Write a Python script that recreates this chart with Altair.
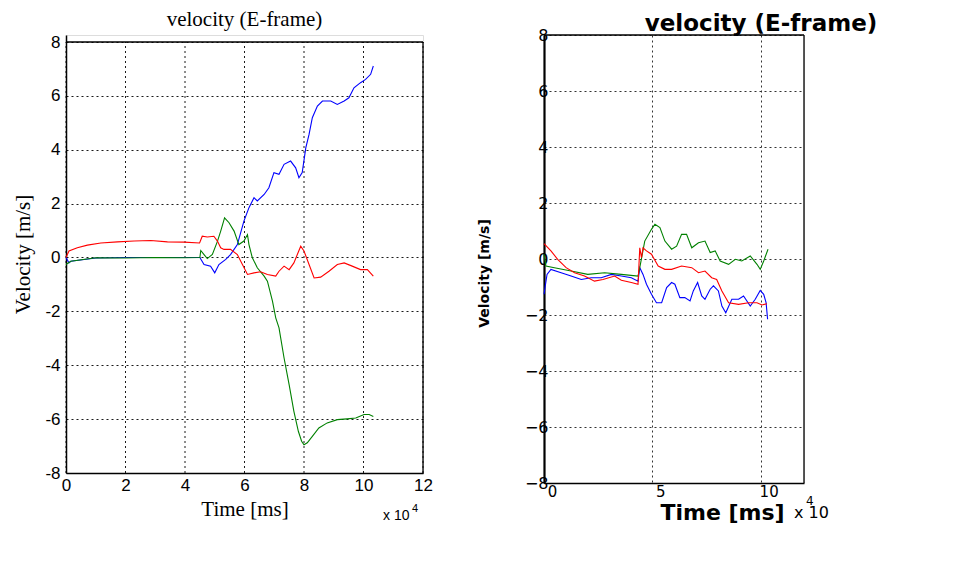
import altair as alt
import pandas as pd

# ---------------- data (time in units of 10^4 ms, velocity in m/s) ----------------
# Left panel
L_BLUE_T = [0, 0.1, 0.16, 1.0, 2.0, 3.0, 4.0, 4.5, 4.64, 4.86, 5.0, 5.14, 5.37, 5.53, 5.76, 5.98, 6.15,
            6.32, 6.43, 6.66, 6.82, 6.99, 7.16, 7.33, 7.55, 7.72, 7.83, 7.94, 8.06, 8.17, 8.28, 8.45,
            8.62, 8.9, 9.12, 9.35, 9.51, 9.68, 9.9, 10.07, 10.24, 10.33]
L_BLUE_V = [0, -0.2, -0.14, -0.02, 0.0, 0.0, 0.0, 0.0, -0.26, -0.32, -0.57, -0.26, -0.07, 0.11, 0.48, 1.35, 1.85,
            2.22, 2.1, 2.34, 2.59, 3.15, 3.09, 3.46, 3.58, 3.33, 2.96, 3.15, 4.07, 4.57, 5.19, 5.62,
            5.81, 5.81, 5.68, 5.81, 5.93, 6.3, 6.49, 6.61, 6.8, 7.11]

L_GREEN_T = [0, 0.16, 1.0, 2.0, 3.0, 4.0, 4.5, 4.53, 4.64, 4.75, 4.92, 5.09, 5.2, 5.33, 5.48, 5.65, 5.81,
             5.98, 6.1, 6.15, 6.26, 6.43, 6.66, 6.77, 6.94, 7.05, 7.16, 7.33, 7.5, 7.66, 7.81, 7.92,
             8.0, 8.11, 8.28, 8.5, 8.78, 9.12, 9.45, 9.74, 10.02, 10.19, 10.33]
L_GREEN_V = [-0.26, -0.14, -0.01, -0.02, 0.0, -0.01, 0.0, 0.26, 0.11, -0.04, 0.11, 0.6, 0.98, 1.47, 1.29, 0.98, 0.48,
             0.61, 0.85, 0.48, 0.0, -0.38, -0.69, -0.88, -1.62, -2.24, -2.61, -3.73, -4.72, -5.71, -6.45, -6.82,
             -6.95, -6.88, -6.64, -6.33, -6.14, -6.02, -5.99, -5.96, -5.83, -5.83, -5.9]

L_RED_T = [0, 0.1, 0.38, 0.72, 1.17, 1.73, 2.29, 2.85, 3.41, 3.97, 4.49, 4.58, 4.75, 4.97, 5.09, 5.2, 5.31,
           5.53, 5.76, 5.93, 6.1, 6.32, 6.54, 6.77, 7.05, 7.16, 7.33, 7.5, 7.66, 7.89, 8.0, 8.17, 8.34,
           8.56, 8.84, 9.12, 9.35, 9.62, 9.9, 10.13, 10.33]
L_RED_V = [0, 0.24, 0.36, 0.46, 0.54, 0.58, 0.61, 0.63, 0.58, 0.57, 0.54, 0.79, 0.76, 0.79, 0.61, 0.36, 0.3,
           0.3, 0.11, -0.26, -0.63, -0.57, -0.53, -0.63, -0.69, -0.51, -0.32, -0.45, -0.2, 0.42, 0.24, -0.26, -0.76,
           -0.73, -0.51, -0.26, -0.2, -0.32, -0.45, -0.45, -0.69]

# Right panel
R_BLUE_T = [0, 0.14, 0.32, 0.79, 1.25, 1.72, 2.18, 2.64, 3.11, 3.57, 4.03, 4.34, 4.42, 4.57, 4.73, 4.96,
            5.19, 5.43, 5.66, 5.89, 6.04, 6.27, 6.5, 6.74, 6.89, 7.09, 7.28, 7.43, 7.67, 7.82, 8.05, 8.21,
            8.39, 8.67, 8.98, 9.21, 9.52, 9.75, 9.98, 10.14, 10.25, 10.32]
R_BLUE_V = [-1.26, -0.55, -0.37, -0.49, -0.61, -0.73, -0.67, -0.67, -0.55, -0.61, -0.67, -0.79, -0.31, -0.55, -0.9, -1.26,
            -1.56, -1.56, -1.02, -0.84, -0.9, -1.38, -1.38, -1.5, -1.14, -0.84, -1.32, -1.44, -1.08, -0.96, -1.14, -1.68,
            -1.92, -1.44, -1.44, -1.32, -1.68, -1.44, -1.12, -1.26, -1.56, -2.15]

R_GREEN_T = [0, 0.09, 0.48, 1.25, 2.02, 2.8, 3.57, 4.34, 4.42, 4.65, 4.96, 5.12, 5.35, 5.58, 5.89, 6.12,
             6.35, 6.58, 6.82, 7.13, 7.43, 7.67, 7.9, 8.13, 8.52, 8.83, 9.13, 9.52, 9.83, 9.98, 10.14, 10.34]
R_GREEN_V = [0.17, -0.25, -0.31, -0.43, -0.55, -0.49, -0.55, -0.61, -0.31, 0.64, 1.06, 1.24, 1.12, 0.64, 0.35, 0.46,
             0.88, 0.88, 0.4, 0.58, 0.64, 0.23, 0.29, -0.07, -0.19, -0.01, -0.07, 0.11, -0.19, -0.37, -0.07, 0.35]

R_RED_T = [0, 0.32, 0.63, 1.02, 1.41, 1.87, 2.33, 2.72, 3.26, 3.57, 4.03, 4.34, 4.42, 4.5, 4.57, 4.73, 4.96,
           5.27, 5.58, 5.89, 6.35, 6.82, 7.13, 7.43, 7.74, 7.97, 8.21, 8.52, 8.98, 9.44, 9.83, 10.06, 10.29]
R_RED_V = [0.55, 0.29, -0.01, -0.31, -0.49, -0.61, -0.79, -0.73, -0.61, -0.76, -0.84, -0.9, 0.4, 0.05, 0.4, 0.29, 0.17,
           -0.25, -0.37, -0.37, -0.25, -0.31, -0.49, -0.43, -0.67, -0.73, -1.14, -1.56, -1.62, -1.56, -1.56, -1.64, -1.6]

SERIES = ["v1", "v2", "v3"]
COLORS = ["#0000ff", "#008000", "#ff0000"]
Y_TICKS = [-8, -6, -4, -2, 0, 2, 4, 6, 8]
LEFT_X_TICKS = [0, 2, 4, 6, 8, 10, 12]
RIGHT_X_TICKS = [0, 5, 10]
X_MAX, Y_MIN, Y_MAX = 12, -8, 8


def build(parts):
    rows = []
    for name, ts, vs in parts:
        for i, (t, v) in enumerate(zip(ts, vs)):
            rows.append({"s": name, "t": t, "v": v, "i": i})
    return pd.DataFrame(rows)


df_left = build([("v1", L_BLUE_T, L_BLUE_V), ("v2", L_GREEN_T, L_GREEN_V), ("v3", L_RED_T, L_RED_V)])
df_right = build([("v1", R_BLUE_T, R_BLUE_V), ("v2", R_GREEN_T, R_GREEN_V), ("v3", R_RED_T, R_RED_V)])

color = alt.Color("s:N", scale=alt.Scale(domain=SERIES, range=COLORS), legend=None)
one = pd.DataFrame({"a": [0]})

# ---------------- left panel ----------------
# plot frame is 357 x 431 px; the view is 7 px taller so that the frame top sits lower than the right panel's
LW, LH, LTOP = 357, 431, 7
L_YMAX = Y_MAX + LTOP * (Y_MAX - Y_MIN) / LH
lx = alt.X("t:Q", scale=alt.Scale(domain=[0, X_MAX], nice=False, zero=False),
           axis=alt.Axis(values=LEFT_X_TICKS, title="Time [ms]", labelExpr="datum.value + ''",
                         labelFont="Liberation Sans", labelFontSize=17, labelColor="black",
                         labelPadding=4, ticks=False, domainColor="black", domainWidth=1.5,
                         grid=False,
                         titleFont="Liberation Serif", titleFontSize=21, titleFontWeight="normal",
                         titleColor="black", titlePadding=5, labelFlush=False))
ly = alt.Y("v:Q", scale=alt.Scale(domain=[Y_MIN, L_YMAX], nice=False, zero=False),
           axis=alt.Axis(values=Y_TICKS, title="Velocity [m/s]", labelExpr="datum.value + ''",
                         labelFont="Liberation Sans", labelFontSize=17, labelColor="black",
                         labelPadding=6, ticks=False, domainColor="black", domainWidth=1.5,
                         grid=True, gridColor="black", gridDash=[2, 3], gridWidth=0.9, gridOpacity=1,
                         titleFont="Liberation Serif", titleFontSize=21, titleFontWeight="normal",
                         titleColor="black", titlePadding=11, labelFlush=False))

left_lines = alt.Chart(df_left).mark_line(strokeWidth=1.1).encode(x=lx, y=ly, color=color, order="i:Q")
left_vgrid = alt.Chart(pd.DataFrame({"t": LEFT_X_TICKS})).mark_rule(
    color="black", strokeDash=[2, 3], strokeWidth=0.9
).encode(x="t:Q", y=alt.datum(Y_MIN), y2=alt.datum(Y_MAX))
left_top = alt.Chart(one).mark_rule(color="black", strokeWidth=1.3).encode(
    x=alt.datum(0), x2=alt.datum(X_MAX), y=alt.datum(Y_MAX))
left_right = alt.Chart(one).mark_rule(color="black", strokeWidth=1.3).encode(
    x=alt.datum(X_MAX), y=alt.datum(Y_MIN), y2=alt.datum(Y_MAX))
left_x = alt.Chart(one).mark_text(
    font="Liberation Sans", fontSize=14, align="left", baseline="alphabetic", color="black"
).encode(x=alt.value(317), y=alt.value(LTOP + LH + 47), text=alt.value("x 10"))
left_e = alt.Chart(one).mark_text(
    font="Liberation Sans", fontSize=11, align="left", baseline="alphabetic", color="black"
).encode(x=alt.value(346), y=alt.value(LTOP + LH + 39), text=alt.value("4"))

left = alt.layer(left_vgrid, left_top, left_right, left_lines, left_x, left_e).properties(
    width=LW, height=LH + LTOP,
    title=alt.TitleParams("velocity (E-frame)", font="Liberation Serif", fontSize=21,
                          fontWeight="normal", color="black", anchor="middle", offset=3),
)

# ---------------- right panel ----------------
RW, RH = 260, 448
rx = alt.X("t:Q", scale=alt.Scale(domain=[0, X_MAX], nice=False, zero=False),
           axis=alt.Axis(values=RIGHT_X_TICKS, title="Time [ms]", format="d",
                         labelFont="DejaVu Sans", labelFontSize=15, labelColor="black",
                         labelPadding=1, labelOffset=8, ticks=False, domainColor="black", domainWidth=1.5,
                         grid=True, gridColor="#333333", gridDash=[2, 3], gridWidth=1, gridOpacity=1,
                         titleFont="DejaVu Sans", titleFontSize=22, titleFontWeight="bold",
                         titleColor="black", titleX=178, titleY=36, titleBaseline="alphabetic",
                         labelFlush=False))
ry = alt.Y("v:Q", scale=alt.Scale(domain=[Y_MIN, Y_MAX], nice=False),
           axis=alt.Axis(values=Y_TICKS, title="Velocity [m/s]", format="d",
                         labelFont="DejaVu Sans", labelFontSize=16, labelColor="black",
                         labelPadding=-4, ticks=False, domainColor="black", domainWidth=2.2,
                         grid=True, gridColor="#333333", gridDash=[2, 3], gridWidth=1, gridOpacity=1,
                         titleFont="DejaVu Sans", titleFontSize=14, titleFontWeight="bold",
                         titleColor="black", titleX=-60, titleY=238, titleBaseline="middle",
                         labelFlush=False))

right_lines = alt.Chart(df_right).mark_line(strokeWidth=1.1).encode(x=rx, y=ry, color=color, order="i:Q")
right_top = alt.Chart(one).mark_rule(color="black", strokeWidth=1.3).encode(
    x=alt.datum(0), x2=alt.datum(X_MAX), y=alt.datum(Y_MAX))
right_right = alt.Chart(one).mark_rule(color="black", strokeWidth=1.3).encode(
    x=alt.datum(X_MAX), y=alt.datum(Y_MIN), y2=alt.datum(Y_MAX))
right_x = alt.Chart(one).mark_text(
    font="DejaVu Sans", fontSize=16, align="left", baseline="alphabetic", color="black"
).encode(x=alt.value(250), y=alt.value(RH + 35), text=alt.value("x 10"))
right_e = alt.Chart(one).mark_text(
    font="DejaVu Sans", fontSize=12, align="left", baseline="alphabetic", color="black"
).encode(x=alt.value(262), y=alt.value(RH + 22), text=alt.value("4"))

right = alt.layer(right_lines, right_top, right_right, right_x, right_e).properties(
    width=RW, height=RH,
    title=alt.TitleParams("velocity (E-frame)", font="DejaVu Sans", fontSize=23,
                          fontWeight="bold", color="black", anchor="middle", offset=-9, dx=87),
)

chart = alt.hconcat(left, right, spacing=43).configure_view(
    strokeWidth=0
).configure(padding={"left": 12, "top": 8, "right": 0, "bottom": 0}, background="white")

chart.save("out.html", embed_options={"renderer": "svg", "actions": False})
